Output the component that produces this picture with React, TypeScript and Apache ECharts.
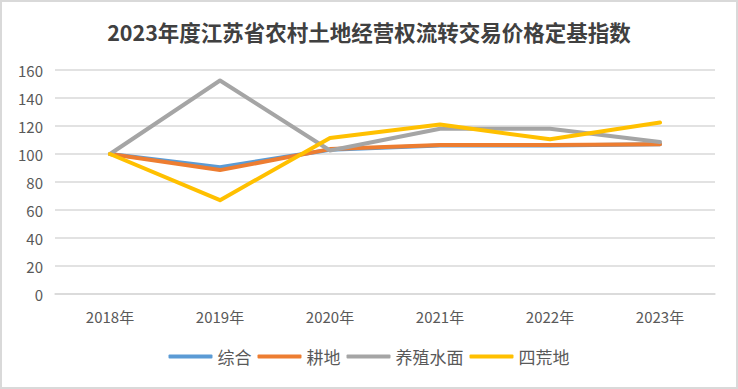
import React, { useEffect, useRef } from "react";
import * as echarts from "echarts";

const titleText = "2023年度江苏省农村土地经营权流转交易价格定基指数";
const categories = ["2018年", "2019年", "2020年", "2021年", "2022年", "2023年"];
const seriesNames = ["综合", "耕地", "养殖水面", "四荒地"];
const zongHe = [100, 90.5, 103, 106, 106, 107];
const gengDi = [100, 88.5, 103.5, 106.5, 106.5, 107];
const yangZhi = [100, 152.5, 102.5, 118, 118, 108.5];
const siHuang = [100, 67, 111.5, 121, 110.5, 122.5];
const colors = ["#5B9BD5", "#ED7D31", "#A5A5A5", "#FFC000"];

export default function App() {
  const ref = useRef<HTMLDivElement>(null);
  useEffect(() => {
    document.body.style.margin = "0";
    const chart = echarts.init(ref.current!, null, { renderer: "svg" });
    const data = [zongHe, gengDi, yangZhi, siHuang];
    chart.setOption({
      animation: false,
      title: {
        text: titleText,
        left: "center",
        top: 14,
        textStyle: {
          fontFamily: "Noto Sans CJK SC",
          fontWeight: "bold",
          fontSize: 21.5,
          color: "#404040",
        },
      },
      legend: {
        bottom: 17,
        left: "center",
        itemWidth: 44,
        itemHeight: 4,
        itemGap: 6,
        icon: "roundRect",
        data: seriesNames,
        textStyle: {
          fontFamily: "Noto Sans CJK SC",
          fontSize: 17,
          color: "#595959",
        },
      },
      grid: { left: 53, right: 21, top: 68, bottom: 93 },
      xAxis: {
        type: "category",
        data: categories,
        boundaryGap: true,
        axisLine: { show: true, lineStyle: { color: "#d9d9d9", width: 1.5 } },
        axisTick: { show: false },
        axisLabel: {
          fontFamily: "Noto Sans CJK SC",
          fontSize: 15,
          color: "#595959",
          margin: 15,
        },
      },
      yAxis: {
        type: "value",
        min: 0,
        max: 160,
        interval: 20,
        axisLine: { show: false },
        axisTick: { show: false },
        splitLine: { lineStyle: { color: "#d9d9d9", width: 1.5 } },
        axisLabel: {
          fontFamily: "Noto Sans CJK SC",
          fontSize: 15,
          color: "#595959",
          margin: 12,
        },
      },
      series: seriesNames.map((name, i) => ({
        name,
        type: "line",
        data: data[i],
        symbol: "none",
        color: colors[i],
        lineStyle: { width: 4, color: colors[i], cap: "round", join: "round" },
      })),
    });
    return () => chart.dispose();
  }, []);
  return (
    <div
      style={{
        width: 738,
        height: 389,
        boxSizing: "border-box",
        border: "2px solid #d9d9d9",
        background: "#fff",
      }}
    >
      <div ref={ref} style={{ width: 734, height: 385 }} />
    </div>
  );
}
